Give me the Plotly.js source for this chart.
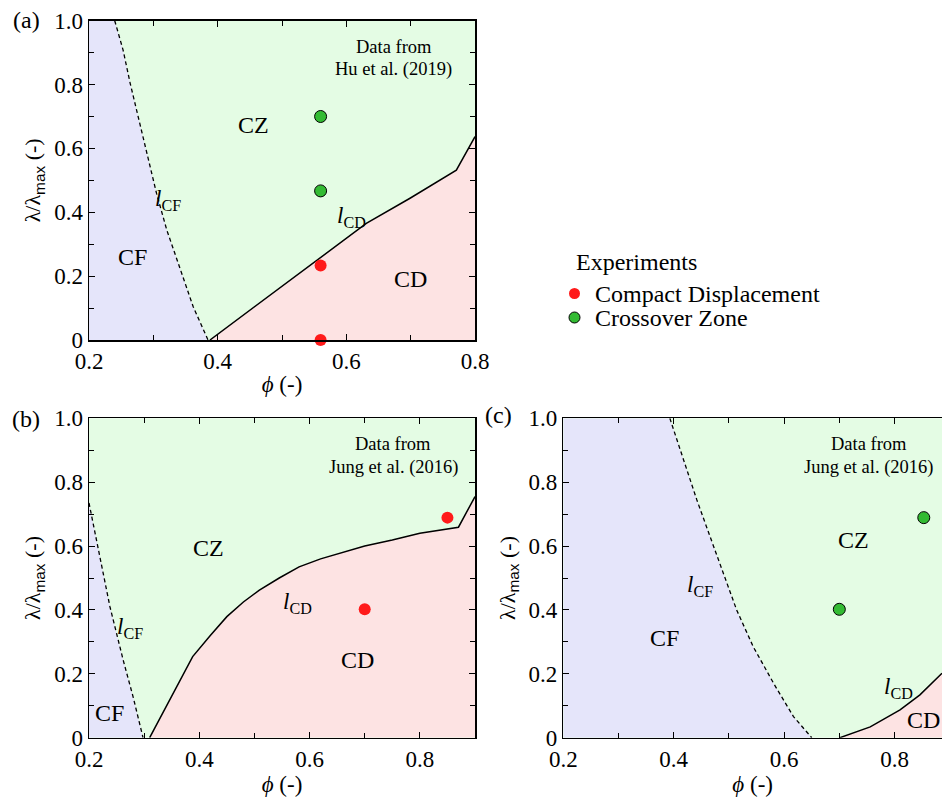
<!DOCTYPE html>
<html>
<head>
<meta charset="utf-8">
<script src="https://cdn.plot.ly/plotly-3.0.1.min.js"></script>
<style>html,body{margin:0;padding:0;background:#fff;}#chart{width:942px;height:800px;}</style>
</head>
<body>
<div id="chart"></div>
<script>
// ---------- Data ----------
// Panel (a): Hu et al. (2019)
const aLcfPhi = [0.240, 0.253, 0.264, 0.279, 0.292, 0.305, 0.321, 0.341, 0.362, 0.385];
const aLcfLam = [1.000, 0.908, 0.804, 0.679, 0.574, 0.459, 0.344, 0.230, 0.104, 0.000];
const aLcdPhi = [0.388, 0.450, 0.500, 0.559, 0.631, 0.699, 0.771, 0.800];
const aLcdLam = [0.000, 0.093, 0.168, 0.256, 0.365, 0.444, 0.532, 0.637];
const aCdPhi = [0.56, 0.56];
const aCdLam = [0.233, 0.0];
const aCzPhi = [0.56, 0.56];
const aCzLam = [0.700, 0.467];

// Panel (b): Jung et al. (2016)
const bLcfPhi = [0.200, 0.220, 0.238, 0.262, 0.280, 0.298];
const bLcfLam = [0.735, 0.567, 0.410, 0.243, 0.128, 0.000];
const bLcdPhi = [0.310, 0.350, 0.388, 0.420, 0.450, 0.480, 0.509, 0.545, 0.581, 0.620, 0.678, 0.700, 0.750, 0.800, 0.870, 0.900];
const bLcdLam = [0.000, 0.130, 0.254, 0.320, 0.379, 0.425, 0.462, 0.500, 0.535, 0.560, 0.588, 0.600, 0.619, 0.640, 0.659, 0.755];
const bCdPhi = [0.70, 0.85];
const bCdLam = [0.402, 0.689];

// Panel (c): Jung et al. (2016)
const cLcfPhi = [0.393, 0.4175, 0.442, 0.466, 0.490, 0.514, 0.544, 0.581, 0.617, 0.650];
const cLcfLam = [1.000, 0.869, 0.744, 0.629, 0.515, 0.400, 0.285, 0.170, 0.066, 0.000];
const cLcdPhi = [0.701, 0.756, 0.810, 0.846, 0.886];
const cLcdLam = [0.000, 0.034, 0.087, 0.134, 0.202];
const cCzPhi = [0.70, 0.853];
const cCzLam = [0.402, 0.689];

// Tick labels
const xTickVals = [0.2, 0.4, 0.6, 0.8];
const xTickText = ['0.2', '0.4', '0.6', '0.8'];
const xMinorVals = [0.3, 0.5, 0.7, 0.9];
const yTickVals = [0, 0.2, 0.4, 0.6, 0.8, 1.0];
const yTickText = ['0', '0.2', '0.4', '0.6', '0.8', '1.0'];
const yMinorVals = [0.1, 0.3, 0.5, 0.7, 0.9];

// Legend
const legendTitle = 'Experiments';
const legendNames = ['Compact Displacement', 'Crossover Zone'];

// ---------- Style ----------
const FONT = 'Liberation Serif';
const C_CF = '#e5e5fa';
const C_CZ = '#e4fce4';
const C_CD = '#fde3e3';
const RED = '#ff1a1a';
const GREEN = '#33bb33';
const TICK_SIZE = 23;

const traces = [];

function regions(xa, ya, xmin, lcfX, lcfY, lcdX, lcdY) {
  traces.push({
    x: [xmin, xmin].concat(lcfX), y: [0, lcfY[0]].concat(lcfY),
    xaxis: xa, yaxis: ya, type: 'scatter', mode: 'lines', fill: 'toself',
    fillcolor: C_CF, line: {width: 0}, showlegend: false, hoverinfo: 'skip'
  });
  traces.push({
    x: lcdX.concat([lcdX[lcdX.length - 1]]), y: lcdY.concat([0]),
    xaxis: xa, yaxis: ya, type: 'scatter', mode: 'lines', fill: 'toself',
    fillcolor: C_CD, line: {width: 0}, showlegend: false, hoverinfo: 'skip'
  });
  traces.push({
    x: lcfX, y: lcfY, xaxis: xa, yaxis: ya, type: 'scatter', mode: 'lines',
    line: {color: 'black', width: 1.3, dash: '4px,3px'}, showlegend: false, hoverinfo: 'skip'
  });
  traces.push({
    x: lcdX, y: lcdY, xaxis: xa, yaxis: ya, type: 'scatter', mode: 'lines',
    line: {color: 'black', width: 1.5}, showlegend: false, hoverinfo: 'skip'
  });
}

regions('x', 'y', 0.2, aLcfPhi, aLcfLam, aLcdPhi, aLcdLam);
regions('x2', 'y2', 0.2, bLcfPhi, bLcfLam, bLcdPhi, bLcdLam);
regions('x3', 'y3', 0.2, cLcfPhi, cLcfLam, cLcdPhi, cLcdLam);

const redMarker = {color: RED, size: 12, line: {width: 0}};
const greenMarker = {color: GREEN, size: 12, line: {color: 'black', width: 1}};

traces.push({x: aCdPhi, y: aCdLam, xaxis: 'x', yaxis: 'y', type: 'scatter', mode: 'markers',
  marker: redMarker, name: legendNames[0], showlegend: false, cliponaxis: false});
traces.push({x: aCzPhi, y: aCzLam, xaxis: 'x', yaxis: 'y', type: 'scatter', mode: 'markers',
  marker: greenMarker, name: legendNames[1], showlegend: false, cliponaxis: false});
traces.push({x: bCdPhi, y: bCdLam, xaxis: 'x2', yaxis: 'y2', type: 'scatter', mode: 'markers',
  marker: redMarker, name: legendNames[0], showlegend: false});
traces.push({x: cCzPhi, y: cCzLam, xaxis: 'x3', yaxis: 'y3', type: 'scatter', mode: 'markers',
  marker: greenMarker, name: legendNames[1], showlegend: false});

function xAxis(domain, range, anchor, mirror) {
  return {
    domain: domain, range: range, anchor: anchor,
    tickmode: 'array', tickvals: xTickVals, ticktext: xTickText,
    ticks: 'inside', ticklen: 6, tickwidth: 1, tickcolor: 'black',
    minor: {tickmode: 'array', tickvals: xMinorVals, ticks: 'inside', ticklen: 5, tickcolor: 'black', showgrid: false},
    showline: true, linecolor: 'black', linewidth: 1.5, mirror: mirror,
    showgrid: false, zeroline: false,
    tickfont: {family: FONT, size: TICK_SIZE, color: 'black'},
    title: {text: '<i>ϕ</i> (-)', font: {family: FONT, size: 23, color: 'black'}, standoff: 3}
  };
}
function yAxis(domain, anchor, mirror) {
  return {
    domain: domain, range: [0, 1], anchor: anchor,
    tickmode: 'array', tickvals: yTickVals, ticktext: yTickText,
    ticks: 'inside', ticklen: 6, tickwidth: 1, tickcolor: 'black',
    minor: {tickmode: 'array', tickvals: yMinorVals, ticks: 'inside', ticklen: 5, tickcolor: 'black', showgrid: false},
    showline: true, linecolor: 'black', linewidth: 1.5, mirror: mirror,
    showgrid: false, zeroline: false,
    tickfont: {family: FONT, size: TICK_SIZE, color: 'black'},
    title: {text: 'λ/λ<sub><span style="font-family:Liberation Sans">max</span></sub> (-)',
      font: {family: FONT, size: 22, color: 'black'}, standoff: 7}
  };
}

const W = 942, H = 800;
const dxA = [89 / W, 475 / W];
const dyA = [1 - 340 / H, 1 - 20.7 / H];
const dyB = [1 - 737.7 / H, 1 - 418.3 / H];
const dxC = [563.3 / W, 1];

function txt(xref, yref, x, y, text, size, xanchor) {
  return {xref: xref, yref: yref, x: x, y: y, text: text, showarrow: false,
    font: {family: FONT, size: size, color: 'black'}, xanchor: xanchor || 'center', yanchor: 'middle'};
}
const lcf = '<i>l</i><sub>CF</sub>';
const lcd = '<i>l</i><sub>CD</sub>';

const annotations = [
  // (a)
  txt('x', 'y', 0.455, 0.673, 'CZ', 24),
  txt('x', 'y', 0.268, 0.26, 'CF', 24),
  txt('x', 'y', 0.699, 0.19, 'CD', 24),
  txt('x', 'y', 0.323, 0.44, lcf, 23),
  txt('x', 'y', 0.608, 0.385, lcd, 23),
  txt('x', 'y', 0.674, 0.918, 'Data from', 18.5),
  txt('x', 'y', 0.674, 0.846, 'Hu et al. (2019)', 18.5),
  // (b)
  txt('x2', 'y2', 0.416, 0.593, 'CZ', 24),
  txt('x2', 'y2', 0.237, 0.078, 'CF', 24),
  txt('x2', 'y2', 0.687, 0.243, 'CD', 24),
  txt('x2', 'y2', 0.274, 0.345, lcf, 23),
  txt('x2', 'y2', 0.578, 0.423, lcd, 23),
  txt('x2', 'y2', 0.752, 0.92, 'Data from', 18.5),
  txt('x2', 'y2', 0.752, 0.847, 'Jung et al. (2016)', 18.5),
  // (c)
  txt('x3', 'y3', 0.726, 0.619, 'CZ', 24),
  txt('x3', 'y3', 0.384, 0.311, 'CF', 24),
  txt('x3', 'y3', 0.853, 0.055, 'CD', 24),
  txt('x3', 'y3', 0.447, 0.475, lcf, 23),
  txt('x3', 'y3', 0.807, 0.157, lcd, 23),
  txt('x3', 'y3', 0.753, 0.92, 'Data from', 18.5),
  txt('x3', 'y3', 0.753, 0.847, 'Jung et al. (2016)', 18.5),
  // panel labels
  txt('paper', 'paper', 26 / W, 1 - 20 / H, '(a)', 24),
  txt('paper', 'paper', 26 / W, 1 - 419 / H, '(b)', 24),
  txt('paper', 'paper', 498 / W, 1 - 415 / H, '(c)', 24),
  // legend
  txt('paper', 'paper', 574 / W, 1 - 262 / H, legendTitle, 24, 'left'),
  txt('paper', 'paper', 593 / W, 1 - 293.5 / H, legendNames[0], 24, 'left'),
  txt('paper', 'paper', 593 / W, 1 - 317.5 / H, legendNames[1], 24, 'left')
];

function dot(cx, cy, fill, lineColor, lineW) {
  return {type: 'circle', xref: 'paper', yref: 'paper', xsizemode: 'pixel', ysizemode: 'pixel',
    xanchor: cx / W, yanchor: 1 - cy / H, x0: -5.5, x1: 5.5, y0: -5.5, y1: 5.5,
    fillcolor: fill, line: {color: lineColor, width: lineW}};
}

const layout = {
  width: W, height: H,
  margin: {l: 0, r: 0, t: 0, b: 0},
  paper_bgcolor: 'white',
  plot_bgcolor: C_CZ,
  font: {family: FONT, color: 'black'},
  xaxis: xAxis(dxA, [0.2, 0.8], 'y', 'ticks'),
  yaxis: yAxis(dyA, 'x', 'ticks'),
  xaxis2: xAxis(dxA, [0.2, 0.9], 'y2', 'ticks'),
  yaxis2: yAxis(dyB, 'x2', 'ticks'),
  xaxis3: xAxis(dxC, [0.2, 0.886], 'y3', 'ticks'),
  yaxis3: yAxis(dyB, 'x3', false),
  showlegend: false,
  shapes: [
    dot(574.5, 293.5, RED, RED, 0),
    dot(574.5, 317.5, GREEN, 'black', 1)
  ],
  annotations: annotations
};

Plotly.newPlot('chart', traces, layout, {displayModeBar: false, staticPlot: true});
</script>
</body>
</html>
